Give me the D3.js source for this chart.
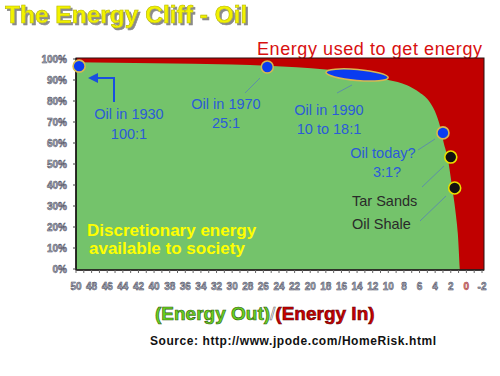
<!DOCTYPE html>
<html>
<head>
<meta charset="utf-8">
<script src="https://cdn.jsdelivr.net/npm/d3@7"></script>
<style>
  body { margin: 0; background: #fff; }
  svg { display: block; font-family: "Liberation Sans", Arial, sans-serif; }
</style>
</head>
<body>
<script>
// ////////// Data ////////////
// boundary between net energy (green) and energy used to get energy (red)
var curveRatio = [50, 40, 30, 25.5, 18, 14, 10, 7.6, 6, 4.7, 3.8, 3.3, 2.9, 2.4, 1.9, 1.35, 1.1, 0.85];
var curvePct   = [98.4, 98, 97.4, 96.8, 95, 93, 90, 87.5, 84, 79.5, 73, 67, 60, 53, 41, 26, 17, 0];

// oil sources on the cliff
var pointNames = ["Oil in 1930", "Oil in 1970", "Oil in 1990", "Oil today?", "Tar Sands", "Oil Shale"];
var pointRatio = [49.6, 25.5, 14, 3, 2, 1.5];
var pointPct   = [96.6, 96.2, 92.4, 64.8, 53.3, 38.6];
var pointKind  = ["oil", "oil", "range", "oil", "alt", "alt"];

var xTicks = d3.range(50, -3, -2);           // 50, 48 ... 0, -2
var yTicks = d3.range(0, 101, 10);           // 0% ... 100%

// ////////// Layout ////////////
var W = 500, H = 376;
var plot = {left: 76, right: 484, top: 58, bottom: 270};

var svg = d3.select("body").append("svg")
  .attr("width", W)
  .attr("height", H);

var defs = svg.append("defs");
defs.append("filter").attr("id", "shadow")
  .attr("x", "-5%").attr("y", "-20%").attr("width", "115%").attr("height", "150%")
  .append("feDropShadow")
  .attr("dx", 2).attr("dy", 2).attr("stdDeviation", 0.6)
  .attr("flood-color", "#8a8a8a").attr("flood-opacity", 1);

var x = d3.scaleLinear().domain([50, -2]).range([76, 482]);
var y = d3.scaleLinear().domain([0, 100]).range([269, 59]);

// ////////// Title ////////////
svg.append("text").attr("x", 5).attr("y", 23)
  .attr("font-size", 24.5).attr("font-weight", "bold")
  .attr("fill", "#f2f200").attr("stroke", "#b8b800").attr("stroke-width", 0.6)
  .attr("filter", "url(#shadow)")
  .text("The Energy Cliff - Oil");

svg.append("text")
  .attr("x", 257).attr("y", 55)
  .attr("font-size", 18)
  .attr("fill", "#d81010")
  .attr("textLength", 225).attr("lengthAdjust", "spacing")
  .text("Energy used to get energy");

// ////////// Plot area ////////////
svg.append("rect")
  .attr("x", plot.left).attr("y", plot.top)
  .attr("width", plot.right - plot.left).attr("height", plot.bottom - plot.top)
  .attr("fill", "#c00000");

var curve = curveRatio.map(function(r, i) { return {r: r, p: curvePct[i]}; });

var area = d3.area()
  .x(function(d) { return x(d.r); })
  .y0(y(0) + 1)
  .y1(function(d) { return y(d.p); })
  .curve(d3.curveMonotoneX);

svg.append("path")
  .datum(curve)
  .attr("d", area)
  .attr("fill", "#74c36b");

// frame
svg.append("rect")
  .attr("x", plot.left).attr("y", plot.top)
  .attr("width", plot.right - plot.left).attr("height", plot.bottom - plot.top)
  .attr("fill", "none")
  .attr("stroke", "#2a1010").attr("stroke-width", 1);

// left axis
svg.append("line")
  .attr("x1", plot.left).attr("x2", plot.left)
  .attr("y1", plot.top).attr("y2", plot.bottom)
  .attr("stroke", "#111").attr("stroke-width", 1.5);

var yAxis = svg.append("g");
yAxis.selectAll("line").data(yTicks).enter().append("line")
  .attr("x1", plot.left - 3).attr("x2", plot.left)
  .attr("y1", function(d) { return y(d); })
  .attr("y2", function(d) { return y(d); })
  .attr("stroke", "#444");
yAxis.selectAll("text").data(yTicks).enter().append("text")
  .attr("x", 67)
  .attr("y", function(d) { return y(d); })
  .attr("dy", "0.35em")
  .attr("text-anchor", "end")
  .attr("font-size", 10).attr("font-weight", "bold")
  .attr("fill", "#a9aec0").attr("stroke", "#3c3c4c").attr("stroke-width", 0.45)
  .text(function(d) { return d + "%"; });

// bottom axis
svg.append("line")
  .attr("x1", plot.left).attr("x2", plot.right)
  .attr("y1", plot.bottom).attr("y2", plot.bottom)
  .attr("stroke", "#222").attr("stroke-width", 1.5);

var xAxis = svg.append("g");
xAxis.selectAll("line").data(d3.range(50, -3, -1)).enter().append("line")
  .attr("x1", function(d) { return x(d); })
  .attr("x2", function(d) { return x(d); })
  .attr("y1", plot.bottom).attr("y2", plot.bottom + 3)
  .attr("stroke", "#666");
xAxis.selectAll("text").data(xTicks).enter().append("text")
  .attr("x", function(d) { return x(d); })
  .attr("y", 290)
  .attr("text-anchor", "middle")
  .attr("font-size", 10).attr("font-weight", "bold")
  .attr("fill", function(d) { return d === 0 ? "#e09090" : "#a9aec0"; })
  .attr("stroke", function(d) { return d === 0 ? "#901010" : "#3c3c4c"; })
  .attr("stroke-width", 0.45)
  .text(function(d) { return d; });

// ////////// Annotations ////////////
var blue = "#2b5bd8";
var lead = "#5d8fa8";

// leader lines: [from label, to point]
var leaders = [
  [[245, 93], [260, 78]],
  [[337, 93], [352, 85]],
  [[418, 150], [435, 139]],
  [[422, 187], [444, 166]],
  [[420, 221], [446, 196]]
];
svg.selectAll("line.lead").data(leaders).enter().append("line")
  .attr("class", "lead")
  .attr("x1", function(d) { return d[0][0]; }).attr("y1", function(d) { return d[0][1]; })
  .attr("x2", function(d) { return d[1][0]; }).attr("y2", function(d) { return d[1][1]; })
  .attr("stroke", lead).attr("stroke-width", 1);

// arrow for 1930
defs.append("marker")
  .attr("id", "arr").attr("viewBox", "0 0 10 10")
  .attr("refX", 5).attr("refY", 5)
  .attr("markerWidth", 5).attr("markerHeight", 5)
  .attr("orient", "auto")
  .append("path").attr("d", "M0,0 L10,5 L0,10 z").attr("fill", "#1a4fe0");
svg.append("path")
  .attr("d", "M114,102 L114,78 L93,78")
  .attr("fill", "none").attr("stroke", "#1a4fe0").attr("stroke-width", 2)
  .attr("marker-end", "url(#arr)");

// points
var pts = pointNames.map(function(n, i) {
  return {name: n, r: pointRatio[i], p: pointPct[i], kind: pointKind[i]};
});

svg.selectAll("ellipse.range").data(pts.filter(function(d) { return d.kind === "range"; }))
  .enter().append("ellipse")
  .attr("class", "range")
  .attr("cx", function(d) { return x(d.r); })
  .attr("cy", function(d) { return y(d.p); })
  .attr("rx", (x(10) - x(18)) / 2).attr("ry", 5.5)
  .attr("transform", function(d) { return "rotate(5," + x(d.r) + "," + y(d.p) + ")"; })
  .attr("fill", "#0a3cf0").attr("stroke", "#d8b850").attr("stroke-width", 1.5);

svg.selectAll("circle.pt").data(pts.filter(function(d) { return d.kind !== "range"; }))
  .enter().append("circle")
  .attr("class", "pt")
  .attr("cx", function(d) { return x(d.r); })
  .attr("cy", function(d) { return y(d.p); })
  .attr("r", 6)
  .attr("fill", function(d) { return d.kind === "alt" ? "#111" : "#0a3cf0"; })
  .attr("stroke", function(d) { return d.kind === "alt" ? "#e8e000" : "#d8b850"; })
  .attr("stroke-width", 1.6);

// labels
var labels = [
  {t: "Oil in 1930", x: 129, y: 119, c: blue, a: "middle"},
  {t: "100:1",       x: 129, y: 139, c: blue, a: "middle"},
  {t: "Oil in 1970", x: 226, y: 109, c: blue, a: "middle"},
  {t: "25:1",        x: 226, y: 128, c: blue, a: "middle"},
  {t: "Oil in 1990", x: 329, y: 115, c: blue, a: "middle"},
  {t: "10 to 18:1",  x: 329, y: 134, c: blue, a: "middle"},
  {t: "Oil today?",  x: 383, y: 158, c: blue, a: "middle"},
  {t: "3:1?",        x: 387, y: 177, c: blue, a: "middle"},
  {t: "Tar Sands",   x: 352, y: 206, c: "#2a2a2a", a: "start"},
  {t: "Oil Shale",   x: 352, y: 229, c: "#2a2a2a", a: "start"}
];
svg.selectAll("text.lab").data(labels).enter().append("text")
  .attr("class", "lab")
  .attr("x", function(d) { return d.x; })
  .attr("y", function(d) { return d.y; })
  .attr("text-anchor", function(d) { return d.a; })
  .attr("font-size", 14.5)
  .attr("fill", function(d) { return d.c; })
  .text(function(d) { return d.t; });

svg.append("text").attr("x", 87).attr("y", 236)
  .attr("font-size", 17).attr("font-weight", "bold").attr("fill", "#ffff00")
  .text("Discretionary energy");
svg.append("text").attr("x", 89).attr("y", 254)
  .attr("font-size", 17).attr("font-weight", "bold").attr("fill", "#ffff00")
  .text("available to society");

// ////////// Axis title & source ////////////
var at = svg.append("text").attr("y", 320)
  .attr("font-size", 19).attr("font-weight", "bold")
  .attr("stroke-width", 0.6);
at.append("tspan").attr("x", 155)
  .attr("fill", "#6ad21e").attr("stroke", "#2f5a10").text("(Energy Out)");
at.append("tspan")
  .attr("fill", "#ffffff").attr("stroke", "#666").attr("font-weight", "normal").text("/");
at.append("tspan")
  .attr("fill", "#cc0000").attr("stroke", "#600000").text("(Energy In)");

svg.append("text")
  .attr("x", 150).attr("y", 345)
  .attr("font-size", 12).attr("font-weight", "bold").attr("fill", "#111")
  .attr("textLength", 286).attr("lengthAdjust", "spacing")
  .text("Source: http://www.jpode.com/HomeRisk.html");
</script>
</body>
</html>
